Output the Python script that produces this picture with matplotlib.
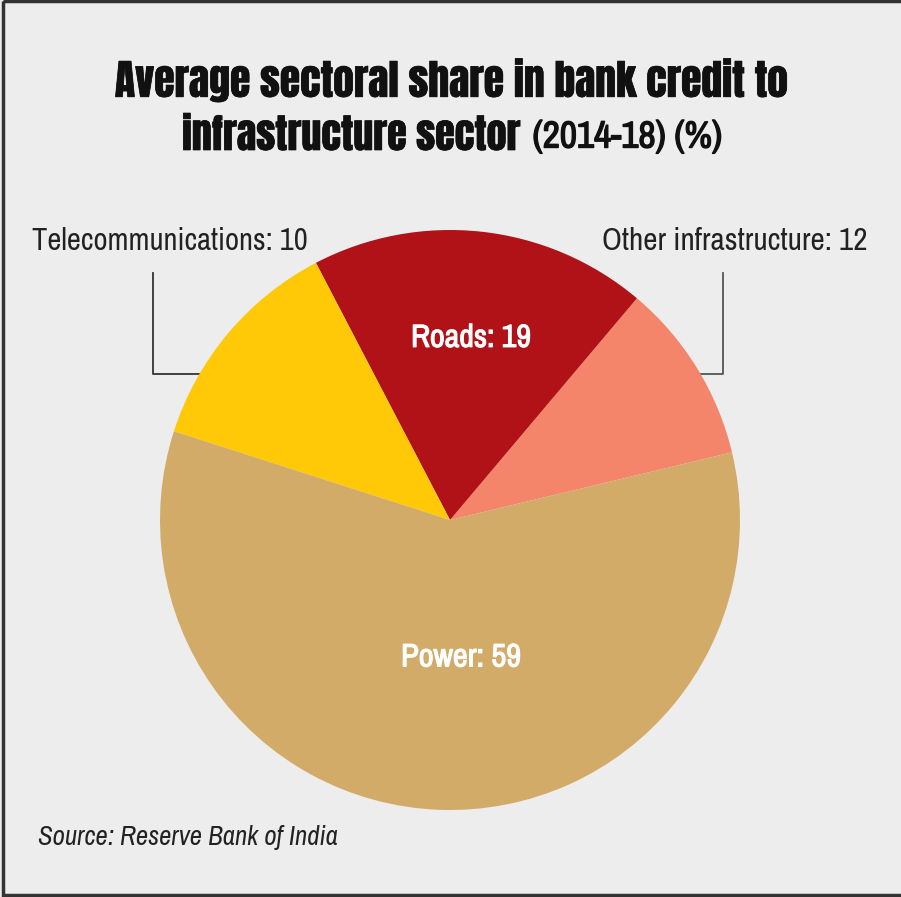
import matplotlib
matplotlib.use("Agg")
import matplotlib.pyplot as plt
import matplotlib.patheffects as pe
from matplotlib.patches import Rectangle

# data (order counter-clockwise starting at the right)
sectors = ["Other infrastructure", "Roads", "Telecommunications", "Power"]
shares = [12, 19, 10, 59]               # values printed in the labels
wedge_sizes = [10.1, 18.8, 12.4, 58.7]  # slice sizes as drawn in the picture
colors = ["#F4856A", "#B11218", "#FFC907", "#D3AB69"]

title_1 = "Average sectoral share in bank credit to"
title_2 = "infrastructure sector"
title_3 = "(2014-18) (%)"
source = "Source: Reserve Bank of India"

W, H = 901, 897
bg = "#EDEDED"
heavy = ["Anton", "Oswald", "Bebas Neue", "Roboto Condensed", "Archivo Narrow", "DejaVu Sans"]
narrow = ["Arial Narrow", "Liberation Sans Narrow", "Archivo Narrow", "Roboto Condensed",
          "PT Sans Narrow", "Pragati Narrow", "Open Sans Condensed", "DejaVu Sans"]

fig = plt.figure(figsize=(W / 100, H / 100), dpi=100, facecolor=bg)
renderer = fig.canvas.get_renderer()

# overlay axes in pixel coordinates
ov = fig.add_axes([0, 0, 1, 1])
ov.set_xlim(0, W)
ov.set_ylim(H, 0)
ov.axis("off")
ov.add_patch(Rectangle((3, 1), W + 10, 894, fill=False, edgecolor="#333333", lw=2.5))


def fit(t, width):
    # scale font size so the text spans the wanted pixel width
    w = t.get_window_extent(renderer).width
    t.set_fontsize(t.get_fontsize() * width / w)
    return t


def embolden(t, lw):
    t.set_path_effects([pe.withStroke(linewidth=lw, foreground=t.get_color())])
    return t


# pie
cx, cy, r = 450, 520, 290
ax = fig.add_axes([(cx - r) / W, (H - cy - r) / H, 2 * r / W, 2 * r / H])
ax.pie(wedge_sizes, colors=colors, startangle=13.5, counterclock=True,
       wedgeprops=dict(linewidth=0))
ax.set_xlim(-1, 1)
ax.set_ylim(-1, 1)
ax.set_aspect("equal")

for x, y, i in [(0.072, 0.628, 1), (0.038, -0.474, 3)]:
    t = ax.text(x, y, f"{sectors[i]}: {shares[i]}", color="white", ha="center",
                va="center", fontsize=20, fontweight="bold", family=narrow)
    fit(t, 120)
    embolden(t, 0.8)

# outside labels with elbow leaders
fit(ov.text(32, 241, f"{sectors[2]}: {shares[2]}", ha="left", va="center", fontsize=21,
            color="#222222", family=narrow), 275)
ov.plot([153, 153, 238], [273, 374, 374], color="#333333", lw=1.3)
fit(ov.text(867, 241, f"{sectors[0]}: {shares[0]}", ha="right", va="center", fontsize=21,
            color="#222222", family=narrow), 265)
ov.plot([723, 723, 661], [273, 374, 374], color="#555555", lw=1.3)

# title
embolden(fit(ov.text(452, 80, title_1, ha="center", va="center", fontsize=34,
                     color="#111111", family=heavy), 674), 0.5)
embolden(fit(ov.text(182, 135, title_2, ha="left", va="center", fontsize=34,
                     color="#111111", family=heavy), 339), 0.5)
embolden(fit(ov.text(722, 137, title_3, ha="right", va="center", fontsize=26,
                     fontweight="bold", color="#111111", family=narrow), 190), 1.0)

fit(ov.text(38, 838, source, ha="left", va="center", fontsize=18, style="italic",
            color="#222222", family=narrow), 300)

fig.savefig("out.png", dpi=100, facecolor=bg)
